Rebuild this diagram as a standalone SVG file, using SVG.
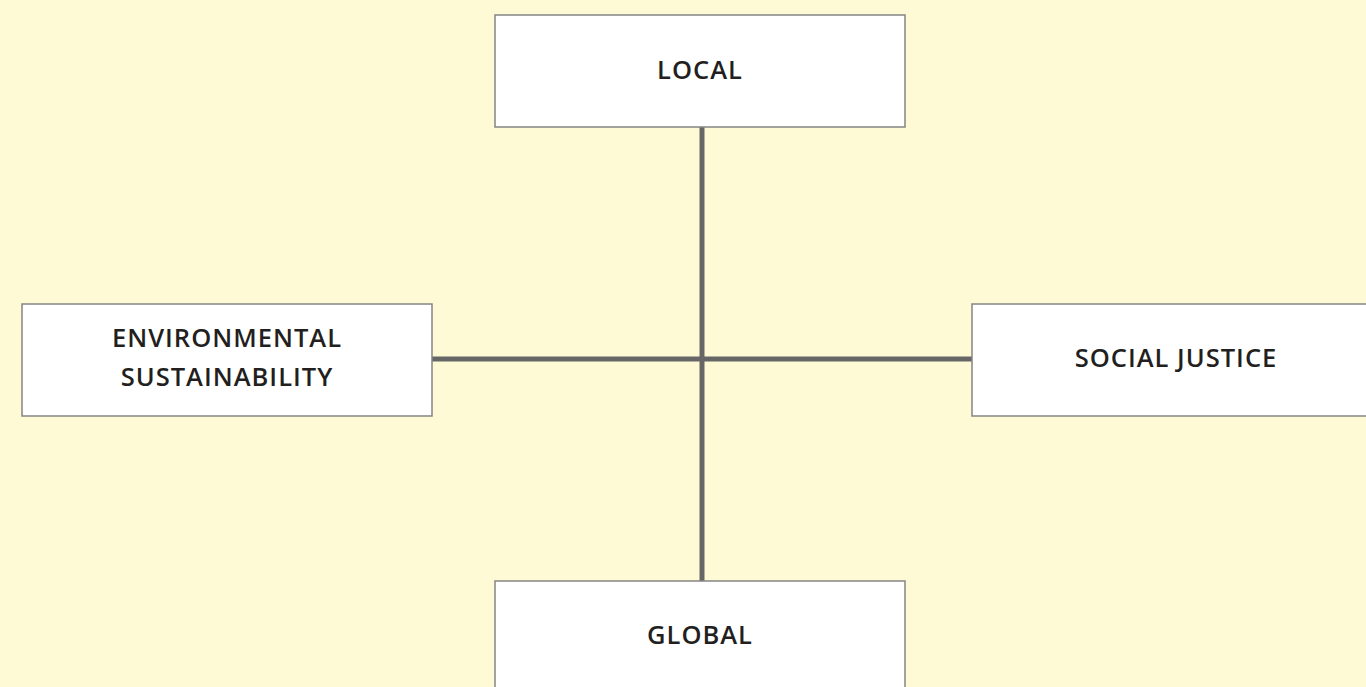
<svg xmlns="http://www.w3.org/2000/svg" width="1366" height="687" viewBox="0 0 1366 687">
<style>
.box{fill:#fff;stroke:#858585;stroke-width:1.5}
.lbl{font-family:"Open Sans","Liberation Sans",sans-serif;font-weight:600;font-size:25.5px;fill:#231f20;text-anchor:middle;letter-spacing:1px}
.conn{stroke:#666;stroke-width:5;fill:none}
</style>
<rect width="1366" height="687" fill="#fffad6"/>
<g id="connectors">
<line class="conn" x1="702" y1="127" x2="702" y2="581"/>
<line class="conn" x1="432" y1="359" x2="972" y2="359"/>
</g>
<g id="local">
<rect class="box" x="495" y="15" width="410" height="112"/>
<text class="lbl" x="700" y="79">LOCAL</text>
</g>
<g id="environmental">
<rect class="box" x="22" y="304" width="410" height="112"/>
<text class="lbl" x="227" y="347">ENVIRONMENTAL</text>
<text class="lbl" x="227" y="386">SUSTAINABILITY</text>
</g>
<g id="social">
<rect class="box" x="972" y="304" width="410" height="112"/>
<text class="lbl" x="1176" y="367">SOCIAL JUSTICE</text>
</g>
<g id="global">
<rect class="box" x="495" y="581" width="410" height="112"/>
<text class="lbl" x="700" y="644">GLOBAL</text>
</g>
</svg>
